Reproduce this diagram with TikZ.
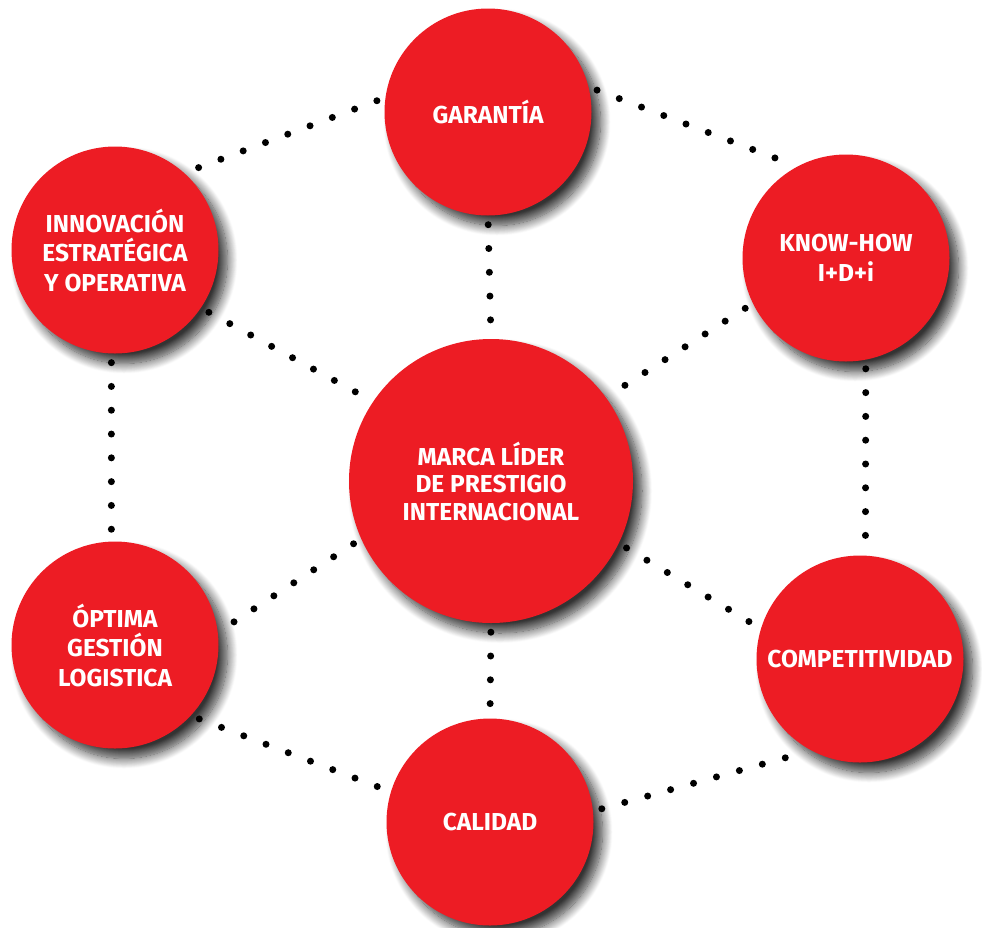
\documentclass[tikz,border=0pt]{standalone}
\usepackage{fontspec}
\setmainfont{Fira Sans}
\usetikzlibrary{shadows.blur}
\definecolor{mred}{RGB}{237,28,36}
\begin{document}
\begin{tikzpicture}[x=1pt,y=-1pt,
  bub/.style={circle, fill=mred, minimum size=207pt, inner sep=0pt, text=white, align=center,
    font=\bfseries\fontsize{24.5}{29.5}\selectfont,
    blur shadow={shadow xshift=9pt, shadow yshift=-10pt, shadow blur radius=10pt, shadow opacity=80, shadow blur steps=14}},
  big/.style={bub, minimum size=284pt, font=\bfseries\fontsize{24.5}{27.5}\selectfont},
  dotline/.style={line width=7pt, line cap=round, dash pattern=on 0pt off 23.8pt, shorten <=9pt, shorten >=9pt}]
\useasboundingbox (0,0) rectangle (982,927);
\node[bub] (gar) at (488,112) {GARANTÍA};
\node[bub] (inn) at (115,250) {INNOVACIÓN\\ESTRATÉGICA\\Y OPERATIVA};
\node[bub] (kno) at (846,258) {KNOW-HOW\\I+D+i};
\node[big] (mar) at (491,481) {MARCA LÍDER\\DE PRESTIGIO\\INTERNACIONAL};
\node[bub] (opt) at (115,645) {ÓPTIMA\\GESTIÓN\\LOGISTICA};
\node[bub] (com) at (860,659) {COMPETITIVIDAD};
\node[bub] (cal) at (490,822) {CALIDAD};
\draw[dotline] (gar.172) -- (inn.48);
\draw[dotline] (gar.14) -- (kno.118);
\draw[dotline] (gar.south) -- (mar.north);
\draw[dotline] (inn.326) -- (mar.146);
\draw[dotline] (kno.206) -- (mar.36);
\draw[dotline] (inn.268) -- (opt.92);
\draw[dotline] (kno.281) -- (com.87);
\draw[dotline] (mar.204) -- (opt.7);
\draw[dotline] (mar.334) -- (com.163);
\draw[dotline] (mar.south) -- (cal.north);
\draw[dotline] (opt.317) -- (cal.163);
\draw[dotline] (cal.6) -- (com.242);
\end{tikzpicture}
\end{document}
